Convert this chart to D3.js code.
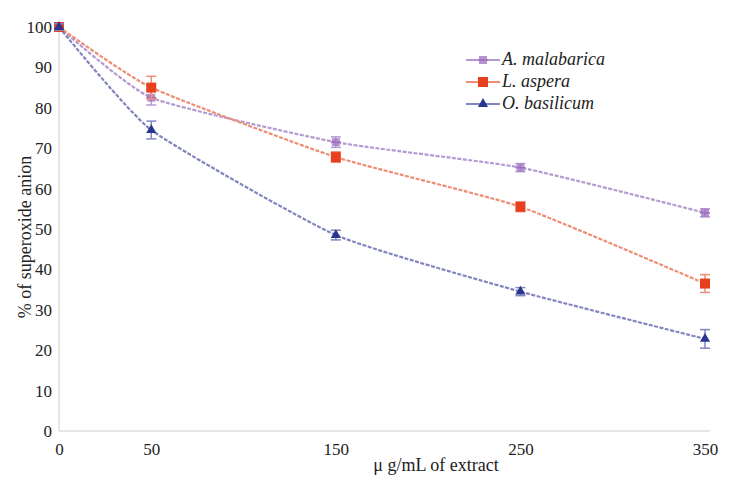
<!DOCTYPE html>
<html><head><meta charset="utf-8">
<script src="https://cdn.jsdelivr.net/npm/d3@7"></script>
<style>
body{margin:0;background:#fff}
svg{display:block}
svg text{font-family:"Liberation Serif",serif !important}
</style>
</head><body>
<svg id="c" width="741" height="489" font-family="Liberation Serif"></svg>
<script>
const doses = [0, 50, 150, 250, 350];
const xTicks = [0, 50, 150, 250, 350];
const yTicks = [0, 10, 20, 30, 40, 50, 60, 70, 80, 90, 100];
const seriesNames = ["A. malabarica", "L. aspera", "O. basilicum"];
const malabarica = [100, 82.5, 71.5, 65.2, 54];
const aspera = [100, 85, 67.8, 55.5, 36.5];
const basilicum = [100, 74.5, 48.5, 34.5, 22.8];
const errMalabarica = [0.8, 1.8, 1.3, 1.0, 1.0];
const errAspera = [0.8, 2.8, 1.3, 1.2, 2.2];
const errBasilicum = [0.8, 2.2, 1.2, 1.0, 2.3];

const svg = d3.select("#c");
const x = d3.scaleLinear().domain([0, 350]).range([59, 705]);
const y = d3.scaleLinear().domain([0, 100]).range([431, 27]);
const serifFace = "Liberation Serif";

svg.append("line").attr("x1", x(0)).attr("x2", 710).attr("y1", y(0)).attr("y2", y(0))
  .attr("stroke", "#e6e6e6").attr("stroke-width", 2);
svg.append("line").attr("x1", x(0)).attr("x2", x(0)).attr("y1", y(0)).attr("y2", y(100))
  .attr("stroke", "#e6e6e6").attr("stroke-width", 2);

const yAxis = svg.append("g").attr("transform", `translate(${x(0)},0)`)
  .call(d3.axisLeft(y).tickValues(yTicks).tickSize(0).tickPadding(7));
yAxis.select(".domain").remove();
yAxis.attr("font-family", serifFace).attr("font-size", 17);
yAxis.selectAll("text").attr("font-family", serifFace).attr("fill", "#222");

const xAxis = svg.append("g").attr("transform", `translate(0,${y(0)})`)
  .call(d3.axisBottom(x).tickValues(xTicks).tickSize(0).tickPadding(12));
xAxis.select(".domain").remove();
xAxis.attr("font-family", serifFace).attr("font-size", 17);
xAxis.selectAll("text").attr("font-family", serifFace).attr("fill", "#222");

svg.append("text").attr("x", 436).attr("y", 471).attr("text-anchor", "middle")
  .attr("font-family", serifFace).attr("font-size", 18).attr("fill", "#222").text("μ g/mL of extract");
svg.append("text").attr("transform", "translate(31,237) rotate(-90)").attr("text-anchor", "middle")
  .attr("font-family", serifFace).attr("font-size", 18).attr("fill", "#222").text("% of superoxide anion");

const series = [
  {name: seriesNames[0], vals: malabarica, err: errMalabarica, line: "#b39ad0", mark: "#a070c0", shape: "plus"},
  {name: seriesNames[1], vals: aspera, err: errAspera, line: "#ec8f74", mark: "#e8401e", shape: "square"},
  {name: seriesNames[2], vals: basilicum, err: errBasilicum, line: "#8286bf", mark: "#2a3590", shape: "triangle"}
];

const line = d3.line().x((d, i) => x(doses[i])).y(d => y(d)).curve(d3.curveCardinal.tension(0.5));

function drawMarker(g, shape, color, cx, cy) {
  if (shape === "square") {
    g.append("rect").attr("x", cx - 5).attr("y", cy - 5).attr("width", 10).attr("height", 10).attr("fill", color);
  } else if (shape === "triangle") {
    g.append("path").attr("d", d3.symbol().type(d3.symbolTriangle).size(45)()).attr("transform", `translate(${cx},${cy})`).attr("fill", color);
  } else {
    g.append("rect").attr("x", cx - 4).attr("y", cy - 4).attr("width", 8).attr("height", 8).attr("fill", color).attr("opacity", 0.75);
    g.append("line").attr("x1", cx - 5).attr("x2", cx + 5).attr("y1", cy).attr("y2", cy).attr("stroke", color).attr("stroke-width", 1.5);
  }
}

series.forEach(s => {
  svg.append("path").datum(s.vals).attr("d", line).attr("fill", "none")
    .attr("stroke", s.line).attr("stroke-width", 2.2).attr("stroke-dasharray", "4,1.5");
});
series.forEach(s => {
  const g = svg.append("g");
  s.vals.forEach((v, i) => {
    const cx = x(doses[i]);
    g.append("line").attr("x1", cx).attr("x2", cx).attr("y1", y(v + s.err[i])).attr("y2", y(v - s.err[i]))
      .attr("stroke", s.line).attr("stroke-width", 1.5);
    [v + s.err[i], v - s.err[i]].forEach(e => g.append("line").attr("x1", cx - 5).attr("x2", cx + 5)
      .attr("y1", y(e)).attr("y2", y(e)).attr("stroke", s.line).attr("stroke-width", 1.5));
    drawMarker(g, s.shape, s.mark, cx, y(v));
  });
});

const lg = svg.append("g");
series.forEach((s, i) => {
  const ly = 60 + i * 22;
  lg.append("line").attr("x1", 466).attr("x2", 500).attr("y1", ly).attr("y2", ly).attr("stroke", s.line).attr("stroke-width", 2.2);
  drawMarker(lg, s.shape, s.mark, 483, ly);
  lg.append("text").attr("x", 502).attr("y", ly + 5).attr("font-family", serifFace).attr("font-style", "italic")
    .attr("font-size", 18).attr("fill", "#222").text(s.name);
});
</script>
</body></html>
